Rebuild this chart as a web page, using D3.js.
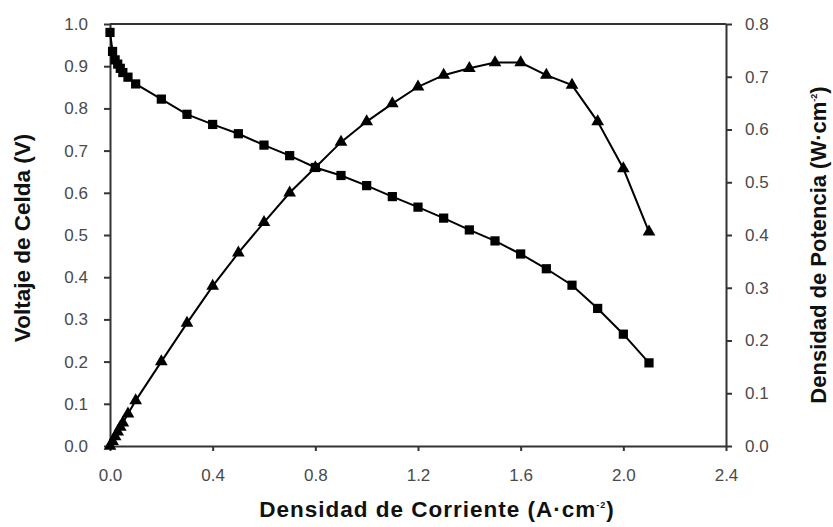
<!DOCTYPE html>
<html>
<head>
<meta charset="utf-8">
<script src="https://cdn.jsdelivr.net/npm/d3@7"></script>
<style>
  body { margin: 0; background: #fff; }
  svg { display: block; font-family: "Liberation Sans", Arial, sans-serif; }
  .axis text { fill: #4a4a4a; font-size: 17px; }
  .axis path, .axis line { stroke: #333; stroke-width: 2; }
  .title { fill: #111; font-size: 22.5px; font-weight: bold; }
</style>
</head>
<body>
<svg id="chart"></svg>
<script>
// current density (A/cm2)
const current = [0, 0.01, 0.02, 0.03, 0.04, 0.05, 0.07, 0.1, 0.2, 0.3, 0.4, 0.5, 0.6, 0.7, 0.8, 0.9,
                 1.0, 1.1, 1.2, 1.3, 1.4, 1.5, 1.6, 1.7, 1.8, 1.9, 2.0, 2.1];
// cell voltage (V)
const voltage = [0.98, 0.935, 0.915, 0.905, 0.895, 0.885, 0.874, 0.858, 0.822, 0.786, 0.762, 0.74, 0.713, 0.688, 0.66, 0.641,
                 0.617, 0.591, 0.566, 0.54, 0.512, 0.486, 0.455, 0.42, 0.381, 0.326, 0.265, 0.197];
// power density (W/cm2)
const power = [0, 0.009, 0.018, 0.027, 0.036, 0.044, 0.061, 0.086, 0.16, 0.233, 0.303, 0.366, 0.424, 0.48, 0.528, 0.576,
               0.615, 0.649, 0.681, 0.703, 0.716, 0.727, 0.727, 0.703, 0.684, 0.615, 0.526, 0.406];

const xTicks = [0, 0.4, 0.8, 1.2, 1.6, 2.0, 2.4];
const vTicks = d3.range(0, 11).map(i => i / 10);
const pTicks = d3.range(0, 9).map(i => i / 10);

const W = 833, H = 527;
const m = { top: 24, right: 107, bottom: 81, left: 110 };
const iW = W - m.left - m.right;
const iH = H - m.top - m.bottom;

const svg = d3.select('#chart').attr('width', W).attr('height', H);
const g = svg.append('g').attr('transform', `translate(${m.left},${m.top})`);

const x = d3.scaleLinear().domain([0, 2.4]).range([0, iW]);
const yV = d3.scaleLinear().domain([0, 1]).range([iH, 0]);
const yP = d3.scaleLinear().domain([0, 0.8]).range([iH, 0]);

// top border
g.append('line')
  .attr('x1', 0).attr('x2', iW).attr('y1', 0).attr('y2', 0)
  .attr('stroke', '#333').attr('stroke-width', 2);

g.append('g')
  .attr('class', 'axis')
  .attr('transform', `translate(0,${iH})`)
  .call(d3.axisBottom(x).tickValues(xTicks).tickFormat(d3.format('.1f')).tickSize(5).tickSizeOuter(0).tickPadding(18));

g.append('g')
  .attr('class', 'axis')
  .call(d3.axisLeft(yV).tickValues(vTicks).tickFormat(d3.format('.1f')).tickSize(6).tickSizeOuter(0).tickPadding(16));

g.append('g')
  .attr('class', 'axis')
  .attr('transform', `translate(${iW},0)`)
  .call(d3.axisRight(yP).tickValues(pTicks).tickFormat(d3.format('.1f')).tickSize(6).tickSizeOuter(0).tickPadding(13));

// voltage (squares) and power (triangles)
const vData = current.map((c, i) => [c, voltage[i]]);
const pData = current.map((c, i) => [c, power[i]]);

g.append('path')
  .datum(vData)
  .attr('fill', 'none').attr('stroke', '#000').attr('stroke-width', 2)
  .attr('d', d3.line().x(d => x(d[0])).y(d => yV(d[1])));

g.append('path')
  .datum(pData)
  .attr('fill', 'none').attr('stroke', '#000').attr('stroke-width', 2)
  .attr('d', d3.line().x(d => x(d[0])).y(d => yP(d[1])));

g.selectAll('.sq')
  .data(vData)
  .join('path')
    .attr('class', 'sq')
    .attr('fill', '#000')
    .attr('transform', d => `translate(${x(d[0])},${yV(d[1])})`)
    .attr('d', d3.symbol(d3.symbolSquare, 85));

g.selectAll('.tri')
  .data(pData)
  .join('path')
    .attr('class', 'tri')
    .attr('fill', '#000')
    .attr('transform', d => `translate(${x(d[0])},${yP(d[1])})`)
    .attr('d', d3.symbol(d3.symbolTriangle, 70));

// axis titles
const xt = svg.append('text')
  .attr('class', 'title')
  .attr('x', 437).attr('y', 517)
  .attr('text-anchor', 'middle')
  .attr('letter-spacing', 1)
  .text('Densidad de Corriente (A·cm');
xt.append('tspan').attr('dy', -9).attr('font-size', 9).text('-2');
xt.append('tspan').attr('dy', 9).text(')');

svg.append('text')
  .attr('class', 'title')
  .attr('transform', `translate(30,238) rotate(-90)`)
  .attr('text-anchor', 'middle')
  .text('Voltaje de Celda (V)');

const rt = svg.append('text')
  .attr('class', 'title')
  .attr('transform', `translate(826,245) rotate(-90)`)
  .attr('text-anchor', 'middle')
  .style('font-size', '22px')
  .text('Densidad de Potencia (W·cm');
rt.append('tspan').attr('dy', -9).attr('font-size', 9).text('-2');
rt.append('tspan').attr('dy', 9).text(')');
</script>
</body>
</html>
